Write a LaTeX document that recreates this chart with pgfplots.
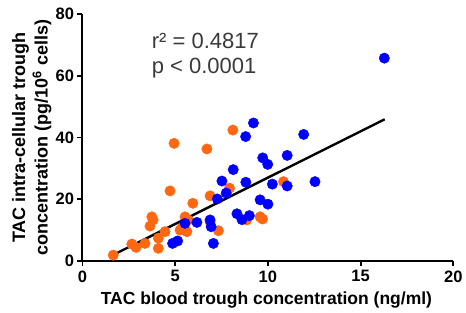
\documentclass[border=0pt]{standalone}
\usepackage{pgfplots}
\pgfplotsset{compat=1.18}
\usepackage{fontspec}
\setmainfont{Liberation Sans}
\definecolor{dotorange}{RGB}{255,104,16}
\definecolor{dotblue}{RGB}{0,0,255}
\definecolor{anntext}{RGB}{58,58,58}
\begin{document}
\begin{tikzpicture}
\useasboundingbox (-82.5pt,-52pt) rectangle (383.5pt,261pt);
\begin{axis}[
  scale only axis,
  width=370.8pt, height=247pt,
  xmin=0, xmax=20, ymin=0, ymax=80,
  axis x line=bottom, axis y line=left,
  axis line style={-, line width=2pt},
  xtick={0,5,10,15,20}, ytick={0,20,40,60,80},
  tick align=outside,
  major tick length=5pt,
  tick style={line width=1.8pt, black},
  /pgf/number format/assume math mode=true,
  ticklabel style={font=\bfseries\fontsize{16.5}{16.5}\selectfont},
  xticklabel style={yshift=-1pt},
  xlabel={TAC blood trough concentration (ng/ml)},
  xlabel style={font=\bfseries\fontsize{17.5}{17.5}\selectfont, at={(axis description cs:0.496,-0.158)}, anchor=center},
  ylabel={TAC intra-cellular trough\\concentration (pg/10\textsuperscript{6} cells)},
  ylabel style={font=\bfseries\fontsize{18}{22.5}\selectfont, align=center, at={(axis description cs:-0.137,0.5)}, anchor=center, rotate=0},
  clip=false,
]
\addplot[only marks, mark=*, mark size=5.2pt, color=dotorange, mark options={draw=dotorange, fill=dotorange}] coordinates {
(8.11,42.4) (4.94,38.1) (6.71,36.3) (4.72,22.7) (5.95,18.7) (6.88,21.1)
(7.93,23.6) (10.84,25.7) (3.74,14.3) (3.81,13.3) (3.64,11.3) (5.53,14.3)
(5.70,13.3) (5.36,10.7) (5.63,9.5) (6.88,12.7) (7.33,9.8) (4.09,7.4)
(4.09,4.1) (3.37,5.7) (2.66,5.5) (2.89,4.4) (1.66,1.9) (9.58,14.3)
(9.71,13.6) (4.45,9.5) (5.26,10.0) (8.85,13.3)
};
\addplot[only marks, mark=*, mark size=5.2pt, color=dotblue, mark options={draw=dotblue, fill=dotblue}] coordinates {
(16.28,65.7) (9.22,44.7) (8.80,40.3) (11.93,41.0) (9.72,33.4) (9.99,31.3)
(11.04,34.2) (8.13,29.6) (7.52,25.9) (8.81,25.5) (10.24,24.9) (11.04,24.3)
(12.54,25.7) (7.75,22.0) (7.27,20.1) (9.58,19.8) (10.00,18.4) (8.33,15.3)
(8.60,13.4) (9.00,14.7) (6.17,12.5) (5.53,12.2) (6.88,13.3) (6.94,11.1)
(4.86,5.7) (5.13,6.5) (7.06,5.7)
};
\addplot[line width=2.4pt, black] coordinates {(1.65,1.95) (16.3,45.9)};
\node[anchor=base west, text=anntext, font=\fontsize{22}{22}\selectfont] at (axis cs:3.55,68.7) {r² = 0.4817};
\node[anchor=base west, text=anntext, font=\fontsize{22}{22}\selectfont] at (axis cs:3.55,60.6) {p < 0.0001};
\end{axis}
\end{tikzpicture}
\end{document}
